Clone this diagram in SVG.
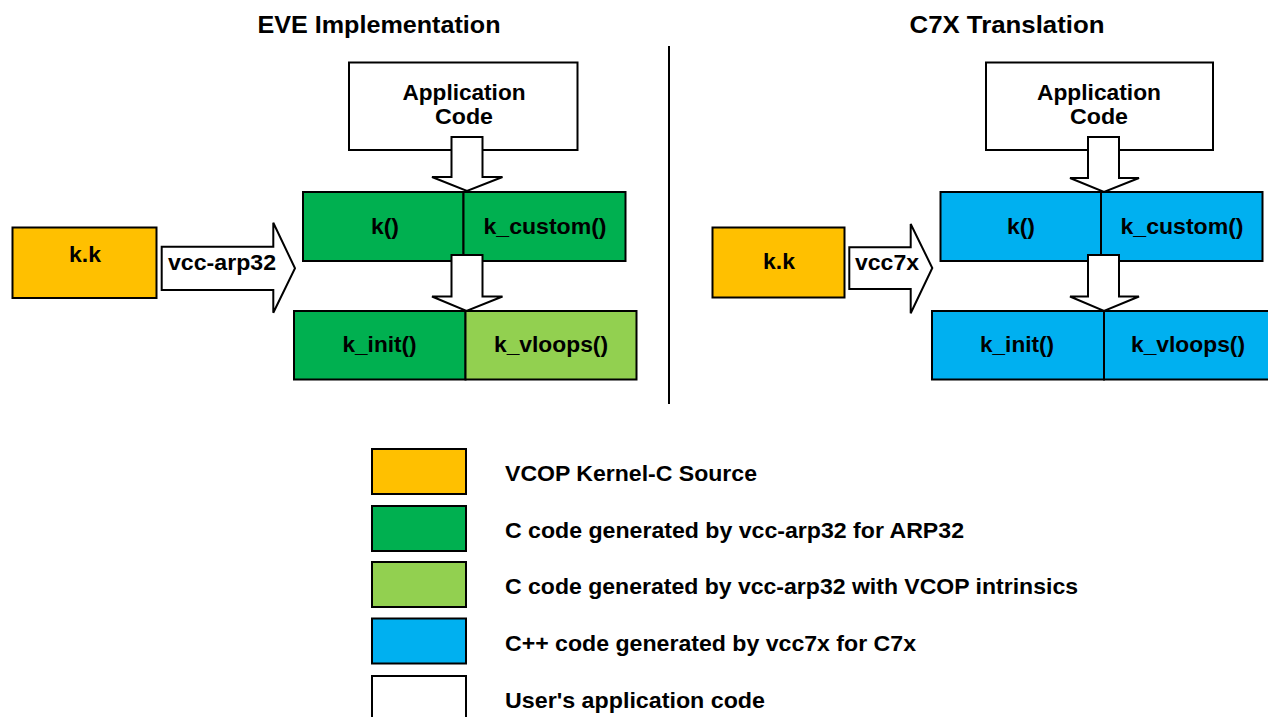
<svg xmlns="http://www.w3.org/2000/svg" width="1268" height="717" viewBox="0 0 1268 717">
<style>
text{font-family:"Liberation Sans",Arial,sans-serif;font-weight:bold;fill:#000;}
.t{font-size:24px;text-anchor:middle;}
.l{font-size:22px;text-anchor:middle;}
.g{font-size:22px;}
.box{stroke:#000;stroke-width:2;}
.white{fill:#fff;}
.orange{fill:#FFC000;}
.green{fill:#00B050;}
.lgreen{fill:#92D050;}
.blue{fill:#00B0F0;}
.arrow{fill:#fff;stroke:#000;stroke-width:2;stroke-linejoin:miter;}
.div{stroke:#000;stroke-width:2;}
</style>
<rect width="1268" height="717" fill="#fff"/>

<g id="titles">
<text class="t" x="379" y="33" textLength="243" lengthAdjust="spacingAndGlyphs">EVE Implementation</text>
<text class="t" x="1007" y="33" textLength="195" lengthAdjust="spacingAndGlyphs">C7X Translation</text>
</g>

<line id="separator" class="div" x1="669" y1="46" x2="669" y2="404"/>

<!-- Left: EVE -->
<g id="eve-app">
<rect class="box white" x="349" y="62.5" width="228.5" height="87.5"/>
<text class="l" x="464" y="100" textLength="123" lengthAdjust="spacingAndGlyphs">Application</text>
<text class="l" x="464" y="124" textLength="58" lengthAdjust="spacingAndGlyphs">Code</text>
</g>
<g id="eve-kk">
<rect class="box orange" x="12.5" y="227.5" width="144" height="70.5"/>
<text class="l" x="85" y="262" textLength="32" lengthAdjust="spacingAndGlyphs">k.k</text>
</g>
<g id="eve-k">
<rect class="box green" x="303" y="192" width="160.5" height="69"/>
<text class="l" x="385" y="234" textLength="28" lengthAdjust="spacingAndGlyphs">k()</text>
</g>
<g id="eve-kcustom">
<rect class="box green" x="463.5" y="192" width="162" height="69"/>
<text class="l" x="545" y="234" textLength="123" lengthAdjust="spacingAndGlyphs">k_custom()</text>
</g>
<g id="eve-kinit">
<rect class="box green" x="294" y="311" width="171.5" height="68.5"/>
<text class="l" x="379.5" y="352" textLength="74" lengthAdjust="spacingAndGlyphs">k_init()</text>
</g>
<g id="eve-kvloops">
<rect class="box lgreen" x="465.5" y="311" width="171" height="68.5"/>
<text class="l" x="551" y="352" textLength="114" lengthAdjust="spacingAndGlyphs">k_vloops()</text>
</g>

<!-- Right: C7X -->
<g id="c7x-app">
<rect class="box white" x="986" y="62.5" width="227" height="87.5"/>
<text class="l" x="1099" y="100" textLength="124" lengthAdjust="spacingAndGlyphs">Application</text>
<text class="l" x="1099" y="124" textLength="58" lengthAdjust="spacingAndGlyphs">Code</text>
</g>
<g id="c7x-kk">
<rect class="box orange" x="712.5" y="227.5" width="132" height="70"/>
<text class="l" x="779" y="269" textLength="32" lengthAdjust="spacingAndGlyphs">k.k</text>
</g>
<g id="c7x-k">
<rect class="box blue" x="940.5" y="192" width="160.5" height="69"/>
<text class="l" x="1021" y="234" textLength="28" lengthAdjust="spacingAndGlyphs">k()</text>
</g>
<g id="c7x-kcustom">
<rect class="box blue" x="1101" y="192" width="161.5" height="69"/>
<text class="l" x="1182" y="234" textLength="123" lengthAdjust="spacingAndGlyphs">k_custom()</text>
</g>
<g id="c7x-kinit">
<rect class="box blue" x="932" y="311" width="172" height="68.5"/>
<text class="l" x="1017" y="352" textLength="74" lengthAdjust="spacingAndGlyphs">k_init()</text>
</g>
<g id="c7x-kvloops">
<rect class="box blue" x="1104" y="311" width="170" height="68.5"/>
<text class="l" x="1188" y="352" textLength="114" lengthAdjust="spacingAndGlyphs">k_vloops()</text>
</g>

<g id="connectors">
<polygon class="arrow" points="161.7,246.7 273.3,246.7 273.3,222.7 295,268.3 273.3,312.7 273.3,290 161.7,290"/>
<text class="l" x="222" y="270" textLength="108" lengthAdjust="spacingAndGlyphs">vcc-arp32</text>
<polygon class="arrow" points="849.3,247.3 910.7,247.3 910.7,224 932.3,268 910.7,313.3 910.7,289 849.3,289"/>
<text class="l" x="887" y="270" textLength="64" lengthAdjust="spacingAndGlyphs">vcc7x</text>
<polygon class="arrow" points="451.5,137 482.5,137 482.5,177 502.5,177 467,191 432,177 451.5,177"/>
<polygon class="arrow" points="451.5,255 482.5,255 482.5,296.5 502.5,296.5 466.5,311 432,296.5 451.5,296.5"/>
<polygon class="arrow" points="1088,137 1119,137 1119,178 1139,178 1104,192 1070,178 1088,178"/>
<polygon class="arrow" points="1088,255 1119,255 1119,296.5 1139,296.5 1104,311 1070,296.5 1088,296.5"/>
</g>

<g id="legend">
<g id="legend-orange">
<rect class="box orange" x="372" y="449" width="94" height="45"/>
<text class="g" x="505" y="481" textLength="252" lengthAdjust="spacingAndGlyphs">VCOP Kernel-C Source</text>
</g>
<g id="legend-green">
<rect class="box green" x="372" y="506" width="94" height="45"/>
<text class="g" x="505" y="538" textLength="459" lengthAdjust="spacingAndGlyphs">C code generated by vcc-arp32 for ARP32</text>
</g>
<g id="legend-lgreen">
<rect class="box lgreen" x="372" y="562" width="94" height="45"/>
<text class="g" x="505" y="594" textLength="573" lengthAdjust="spacingAndGlyphs">C code generated by vcc-arp32 with VCOP intrinsics</text>
</g>
<g id="legend-blue">
<rect class="box blue" x="372" y="618.5" width="94" height="45"/>
<text class="g" x="505" y="650.5" textLength="411" lengthAdjust="spacingAndGlyphs">C++ code generated by vcc7x for C7x</text>
</g>
<g id="legend-white">
<rect class="box white" x="372" y="676" width="94" height="50"/>
<text class="g" x="505" y="707.5" textLength="260" lengthAdjust="spacingAndGlyphs">User's application code</text>
</g>
</g>
</svg>
